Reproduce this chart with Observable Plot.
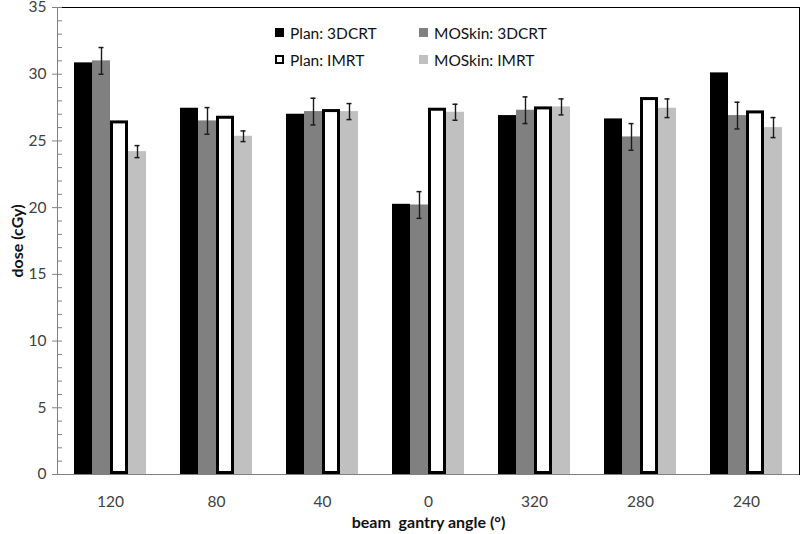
<!DOCTYPE html>
<html>
<head>
<meta charset="utf-8">
<script src="https://cdn.jsdelivr.net/npm/d3@7"></script>
<script src="https://cdn.jsdelivr.net/npm/@observablehq/plot@0.6"></script>
<style>
  html, body { margin: 0; padding: 0; background: #fff; }
  #wrap { position: relative; width: 800px; height: 534px; font-family: Lato, "Open Sans", sans-serif; }
  #legend { position: absolute; left: 275px; top: 23px; display: grid; grid-template-columns: 144px 150px; row-gap: 8px; font-size: 15.5px; color: #111; }
  .item { display: flex; align-items: center; height: 19px; white-space: nowrap; }
  .sw { width: 9px; height: 9px; margin-right: 6px; box-sizing: border-box; flex: none; }
  svg text { white-space: pre; }
</style>
</head>
<body>
<div id="wrap"></div>
<script>
// ---- data ----
const angles = ["120", "80", "40", "0", "320", "280", "240"];
const series = ["Plan: 3DCRT", "MOSkin: 3DCRT", "Plan: IMRT", "MOSkin: IMRT"];
const planCRT     = [30.85, 27.45, 27.0, 20.25, 26.9, 26.65, 30.1];
const moskinCRT   = [31.0, 26.5, 27.2, 20.2, 27.3, 25.3, 26.9];
const moskinCRTErr = [1.0, 1.0, 1.0, 1.0, 1.0, 1.0, 1.0];
const planIMRT    = [26.5, 26.85, 27.35, 27.45, 27.55, 28.25, 27.25];
const moskinIMRT  = [24.2, 25.35, 27.2, 27.15, 27.55, 27.45, 26.0];
const moskinIMRTErr = [0.45, 0.4, 0.6, 0.6, 0.6, 0.7, 0.75];
const yTicks = [0, 5, 10, 15, 20, 25, 30, 35];
const xTitle = "beam  gantry angle (°)";
const yTitle = "dose (cGy)";
const colors = ["#000000", "#808080", "#ffffff", "#c0c0c0"];

const valueSets = [planCRT, moskinCRT, planIMRT, moskinIMRT];
const errSets = [null, moskinCRTErr, null, moskinIMRTErr];
const rows = [];
angles.forEach((a, i) => series.forEach((s, j) => {
  rows.push({angle: a, series: s, value: valueSets[j][i], err: errSets[j] ? errSets[j][i] : null});
}));
const filled = rows.filter(d => d.series !== "Plan: IMRT");
const outlined = rows.filter(d => d.series === "Plan: IMRT");
const errs = rows.filter(d => d.err != null);

const chart = Plot.plot({
  width: 800,
  height: 534,
  marginLeft: 57,
  marginRight: 1,
  marginTop: 7,
  marginBottom: 60,
  style: {fontFamily: "Lato, 'Open Sans', sans-serif", fontSize: "15px", background: "#fff"},
  fx: {domain: angles, padding: 0},
  x: {domain: series, paddingInner: 0, paddingOuter: 0.79},
  y: {domain: [0, 35]},
  color: {domain: series, range: colors},
  marks: [
    Plot.frame({anchor: "top", stroke: "#000"}),
    Plot.frame({anchor: "right", facetAnchor: "right", stroke: "#000"}),
    Plot.frame({anchor: "left", facetAnchor: "left", stroke: "#808080"}),
    Plot.barY(filled, {fx: "angle", x: "series", y: "value", fill: "series"}),
    Plot.barY(outlined, {fx: "angle", x: "series", y: "value", fill: "#fff", stroke: "#000", strokeWidth: 3, inset: 1.5}),
    Plot.ruleY([0], {stroke: "#808080"}),
    Plot.ruleX(errs, {fx: "angle", x: "series", y1: d => d.value - d.err, y2: d => d.value + d.err, stroke: "#1a1a1a", strokeWidth: 1.4}),
    Plot.tickY(errs, {fx: "angle", x: "series", y: d => d.value - d.err, insetLeft: 6.5, insetRight: 6.5, stroke: "#1a1a1a", strokeWidth: 1.5}),
    Plot.tickY(errs, {fx: "angle", x: "series", y: d => d.value + d.err, insetLeft: 6.5, insetRight: 6.5, stroke: "#1a1a1a", strokeWidth: 1.5}),
    Plot.axisY({ticks: yTicks, tickSize: 5, tickPadding: 6, stroke: "#808080", fill: "#404040", fontSize: 15.5,
      label: yTitle, labelAnchor: "center", labelArrow: "none", labelOffset: 46}),
    Plot.axisY({ticks: d3.range(0, 36, 1), tickSize: -5, text: null, stroke: "#808080", label: null}),
    Plot.axisFx({anchor: "bottom", tickSize: 0, tickPadding: 21, fill: "#404040", fontSize: 15.5,
      label: xTitle, labelAnchor: "center", labelArrow: "none", labelOffset: 53}),
    Plot.axisX({ticks: [], label: null})
  ]
});

const wrap = document.getElementById("wrap");
wrap.appendChild(chart);

// bold axis titles
chart.querySelectorAll('[aria-label$="axis label"]').forEach(g => {
  g.style.fontWeight = "bold";
  g.style.fontSize = "16px";
  g.style.fill = "#111";
  g.querySelectorAll("text").forEach(t => { t.style.fontWeight = "bold"; t.style.fontSize = "16px"; t.style.fill = "#111"; });
});

// legend
const legend = document.createElement("div");
legend.id = "legend";
series.forEach((s, j) => {
  const it = document.createElement("div");
  it.className = "item";
  const sw = document.createElement("span");
  sw.className = "sw";
  if (s === "Plan: IMRT") { sw.style.border = "2.5px solid #000"; sw.style.background = "#fff"; }
  else sw.style.background = colors[j];
  const tx = document.createElement("span");
  tx.textContent = s;
  it.appendChild(sw); it.appendChild(tx);
  legend.appendChild(it);
});
wrap.appendChild(legend);
</script>
</body>
</html>
